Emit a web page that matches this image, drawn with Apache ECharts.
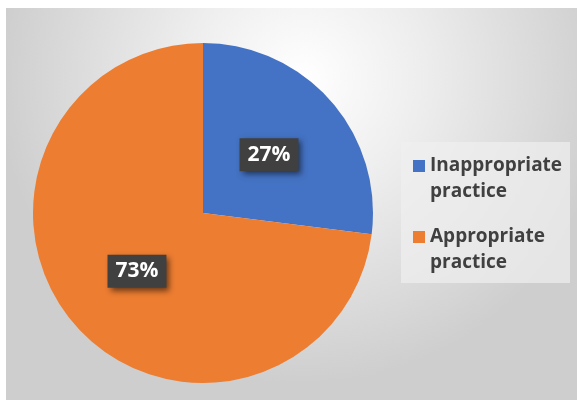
<!DOCTYPE html>
<html>
<head>
<meta charset="utf-8">
<script src="https://cdn.jsdelivr.net/npm/echarts@6/dist/echarts.min.js"></script>
<style>
  html, body { margin: 0; padding: 0; background: #ffffff; }
  #chart { width: 577px; height: 400px; }
</style>
</head>
<body>
<div id="chart"></div>
<script>
// Survey result: share of respondents by practice type
const categories = ['Inappropriate\npractice', 'Appropriate\npractice'];
const shares = [27, 73];
const sliceColors = ['#4472C4', '#ED7D31'];

const chart = echarts.init(document.getElementById('chart'), null, { renderer: 'canvas' });

const pieData = categories.map((name, i) => ({
  name: name,
  value: shares[i],
  itemStyle: { color: sliceColors[i] }
}));

chart.setOption({
  animation: false,
  backgroundColor: '#ffffff',
  graphic: [
    {
      // chart area with soft radial shading
      type: 'rect',
      z: -10,
      silent: true,
      shape: { x: 6, y: 8, width: 571, height: 392 },
      style: {
        fill: new echarts.graphic.RadialGradient(0.52, 0.18, 0.78, [
          { offset: 0, color: '#ffffff' },
          { offset: 0.4, color: '#ededed' },
          { offset: 1, color: '#cecece' }
        ])
      }
    },
    {
      // legend panel
      type: 'rect',
      z: -5,
      silent: true,
      shape: { x: 401, y: 142, width: 169, height: 141 },
      style: { fill: 'rgba(240,240,240,0.7)' }
    }
  ],
  legend: {
    orient: 'vertical',
    left: 413,
    top: 127,
    padding: 0,
    icon: 'rect',
    itemWidth: 12,
    itemHeight: 12,
    itemGap: -7,
    // leading blank line keeps the marker beside the first line of each entry
    formatter: name => ' \n' + name,
    textStyle: {
      fontFamily: 'Open Sans',
      fontWeight: 'bold',
      fontSize: 19,
      color: '#404040',
      lineHeight: 26
    },
    data: categories
  },
  series: [
    {
      type: 'pie',
      center: [203, 213],
      radius: [0, 170],
      startAngle: 90,
      clockwise: true,
      data: pieData,
      label: {
        show: true,
        position: 'inside',
        formatter: '{d}%',
        fontFamily: 'Open Sans',
        fontWeight: 'bold',
        fontSize: 21,
        color: '#ffffff',
        backgroundColor: '#404040',
        padding: [7, 8, 5, 8],
        shadowColor: 'rgba(0,0,0,0.55)',
        shadowBlur: 6,
        shadowOffsetX: 3,
        shadowOffsetY: 3
      },
      labelLine: { show: false },
      emphasis: { disabled: true }
    }
  ]
});
</script>
</body>
</html>
